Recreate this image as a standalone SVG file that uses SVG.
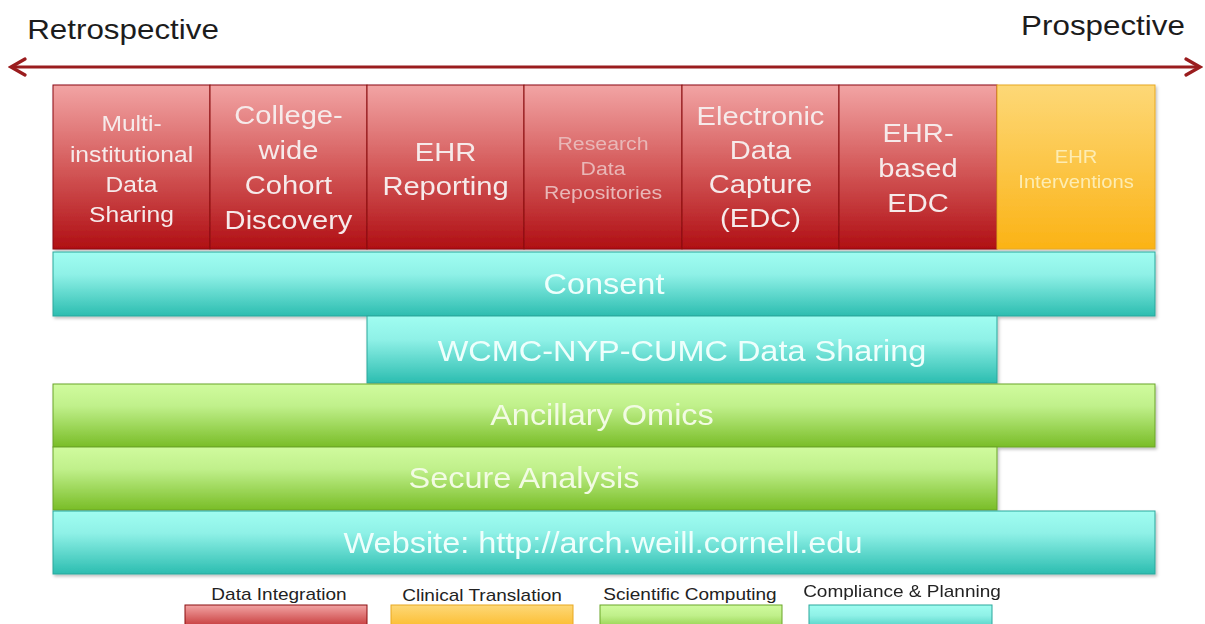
<svg xmlns="http://www.w3.org/2000/svg" width="1205" height="624" viewBox="0 0 1205 624">
<defs>
<linearGradient id="gRed" x1="0" y1="0" x2="0" y2="1"><stop offset="0" stop-color="#f2a4a4"/><stop offset="0.5" stop-color="#d45a5a"/><stop offset="1" stop-color="#b00f14"/></linearGradient>
<linearGradient id="gOrange" x1="0" y1="0" x2="0" y2="1"><stop offset="0" stop-color="#fdd877"/><stop offset="1" stop-color="#fbb316"/></linearGradient>
<linearGradient id="gCyan" x1="0" y1="0" x2="0" y2="1"><stop offset="0" stop-color="#a0fdf1"/><stop offset="0.35" stop-color="#8ff1e7"/><stop offset="1" stop-color="#2cbdb0"/></linearGradient>
<linearGradient id="gGreen" x1="0" y1="0" x2="0" y2="1"><stop offset="0" stop-color="#d0fb9e"/><stop offset="0.35" stop-color="#c0f08b"/><stop offset="1" stop-color="#79bd27"/></linearGradient>
<filter id="sh" x="-5%" y="-20%" width="110%" height="150%"><feDropShadow dx="1.5" dy="2" stdDeviation="1.8" flood-color="#000" flood-opacity="0.25"/></filter>
<marker id="chev" viewBox="0 0 20 20" refX="17" refY="10" markerWidth="20" markerHeight="20" markerUnits="userSpaceOnUse" orient="auto-start-reverse"><path d="M3,2 L17,10 L3,18" fill="none" stroke="#9a1c1e" stroke-width="3.2" stroke-linejoin="miter" stroke-linecap="round"/></marker>
</defs>
<style>
text{font-family:"Liberation Sans",Arial,sans-serif;text-anchor:middle}
.red{fill:url(#gRed);stroke:#8a0c0e;stroke-width:1}
.org{fill:url(#gOrange);stroke:#e8a820;stroke-width:1}
.cyan{fill:url(#gCyan);stroke:#2aa79c;stroke-width:1}
.grn{fill:url(#gGreen);stroke:#6aa528;stroke-width:1}
.tw{fill:#f6eaea}
.tr{fill:#e9b7b7}
.to{fill:#fdecb2}
.tc{fill:#eefffc}
.tg{fill:#f2fbe3}
.c1{font-size:22px}
.c2{font-size:26px}
.c4{font-size:19px}
.c7{font-size:18px}
.band{font-size:29px}
.title{font-size:28px;fill:#1c1c1c}
.leg{font-size:17px;fill:#222}
</style>
<rect width="1205" height="624" fill="#ffffff"/>

<g id="title-retrospective"><g transform="translate(123 39) scale(1.12 1)"><text class="title" x="0" y="0">Retrospective</text></g></g>
<g id="title-prospective"><g transform="translate(1103 35) scale(1.12 1)"><text class="title" x="0" y="0">Prospective</text></g></g>

<g id="connectors">
<line x1="11" y1="67" x2="1200" y2="67" stroke="#9a1c1e" stroke-width="3" marker-start="url(#chev)" marker-end="url(#chev)"/>
</g>

<g filter="url(#sh)">
<g id="n-multi">
<rect class="red" x="53" y="85" width="157" height="164"/>
<g transform="translate(131.5 0) scale(1.12 1)" class="tw c1"><text y="131">Multi-</text><text y="162">institutional</text><text y="192">Data</text><text y="222">Sharing</text></g>
</g>
<g id="n-cohort">
<rect class="red" x="210" y="85" width="157" height="164"/>
<g transform="translate(288.5 0) scale(1.12 1)" class="tw c2"><text y="124">College-</text><text y="159">wide</text><text y="194">Cohort</text><text y="229">Discovery</text></g>
</g>
<g id="n-ehr-reporting">
<rect class="red" x="367" y="85" width="157" height="164"/>
<g transform="translate(445.5 0) scale(1.12 1)" class="tw c2"><text y="161">EHR</text><text y="195">Reporting</text></g>
</g>
<g id="n-repositories">
<rect class="red" x="524" y="85" width="158" height="164"/>
<g transform="translate(603 0) scale(1.12 1)" class="tr c4"><text y="150">Research</text><text y="175">Data</text><text y="199">Repositories</text></g>
</g>
<g id="n-edc">
<rect class="red" x="682" y="85" width="157" height="164"/>
<g transform="translate(760.5 0) scale(1.12 1)" class="tw c2"><text y="125">Electronic</text><text y="159">Data</text><text y="193">Capture</text><text y="227">(EDC)</text></g>
</g>
<g id="n-ehr-edc">
<rect class="red" x="839" y="85" width="158" height="164"/>
<g transform="translate(918 0) scale(1.12 1)" class="tw c2"><text y="142">EHR-</text><text y="177">based</text><text y="212">EDC</text></g>
</g>
<g id="n-ehr-interventions">
<rect class="org" x="997" y="85" width="158" height="164"/>
<g transform="translate(1076 0) scale(1.12 1)" class="to c7"><text y="163">EHR</text><text y="188">Interventions</text></g>
</g>

<g id="n-consent">
<rect class="cyan" x="53" y="252" width="1102" height="64"/>
<g transform="translate(604 294) scale(1.12 1)"><text class="tc band">Consent</text></g>
</g>
<g id="n-wcmc">
<rect class="cyan" x="367" y="316" width="630" height="67"/>
<g transform="translate(682 361) scale(1.12 1)"><text class="tc band">WCMC-NYP-CUMC Data Sharing</text></g>
</g>
<g id="n-omics">
<rect class="grn" x="53" y="384" width="1102" height="63"/>
<g transform="translate(602 425) scale(1.12 1)"><text class="tg band">Ancillary Omics</text></g>
</g>
<g id="n-secure">
<rect class="grn" x="53" y="447" width="944" height="63"/>
<g transform="translate(524 488) scale(1.12 1)"><text class="tg band">Secure Analysis</text></g>
</g>
<g id="n-website">
<rect class="cyan" x="53" y="511" width="1102" height="63"/>
<g transform="translate(603 553) scale(1.12 1)"><text class="tc band">Website: http://arch.weill.cornell.edu</text></g>
</g>
</g>

<g id="legend-data-integration">
<g transform="translate(279 600) scale(1.12 1)"><text class="leg">Data Integration</text></g>
<rect class="red" x="185" y="605" width="182" height="30"/>
</g>
<g id="legend-clinical-translation">
<g transform="translate(482 601) scale(1.12 1)"><text class="leg">Clinical Translation</text></g>
<rect class="org" x="391" y="605" width="182" height="30"/>
</g>
<g id="legend-scientific-computing">
<g transform="translate(690 600) scale(1.12 1)"><text class="leg">Scientific Computing</text></g>
<rect class="grn" x="600" y="605" width="182" height="30"/>
</g>
<g id="legend-compliance">
<g transform="translate(902 597) scale(1.12 1)"><text class="leg">Compliance &amp; Planning</text></g>
<rect class="cyan" x="809" y="605" width="183" height="30"/>
</g>
</svg>
